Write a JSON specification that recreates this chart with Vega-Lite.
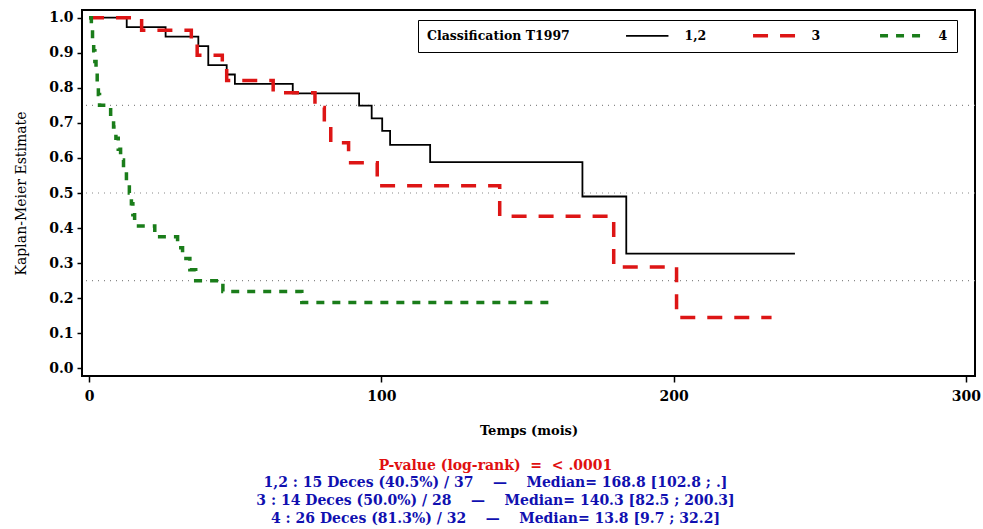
{
  "$schema": "https://vega.github.io/schema/vega-lite/v6.json",
  "width": 893,
  "height": 366,
  "autosize": "none",
  "padding": {"left": 82, "top": 10, "right": 8, "bottom": 153},
  "background": "white",
  "config": {
    "view": {"stroke": "black", "strokeWidth": 2},
    "font": "DejaVu Serif",
    "axisY": {
      "domain": false,
      "grid": false,
      "labelOverlap": false,
      "tickColor": "black",
      "tickSize": 5,
      "tickWidth": 1.5,
      "labelFont": "DejaVu Serif",
      "labelFontSize": 14,
      "labelFontWeight": "bold",
      "labelColor": "black",
      "labelPadding": 4,
      "titleFont": "DejaVu Serif",
      "titleFontSize": 14,
      "titleFontWeight": "normal",
      "titleColor": "black",
      "titlePadding": 20
    },
    "axisX": {
      "domain": false,
      "grid": false,
      "labelOverlap": false,
      "tickColor": "black",
      "tickSize": 6,
      "tickWidth": 1.5,
      "labelFont": "DejaVu Serif",
      "labelFontSize": 14,
      "labelFontWeight": "bold",
      "labelColor": "black",
      "labelPadding": 7,
      "titleFont": "DejaVu Serif",
      "titleFontSize": 13,
      "titleFontWeight": "bold",
      "titleColor": "black",
      "titlePadding": 21
    }
  },
  "title": {
    "text": "P-value (log-rank) \u00a0=\u00a0 <\u00a0.0001",
    "subtitle": [
      "1,2 : 15 Deces (40.5%) / 37 \u00a0\u00a0\u00a0—\u00a0\u00a0\u00a0 Median= 168.8 [102.8 ; .]",
      "3 : 14 Deces (50.0%) / 28 \u00a0\u00a0\u00a0—\u00a0\u00a0\u00a0 Median= 140.3 [82.5 ; 200.3]",
      "4 : 26 Deces (81.3%) / 32 \u00a0\u00a0\u00a0—\u00a0\u00a0\u00a0 Median= 13.8 [9.7 ; 32.2]"
    ],
    "orient": "bottom",
    "anchor": "middle",
    "frame": "group",
    "dx": -33,
    "offset": 22,
    "font": "DejaVu Serif",
    "fontSize": 14,
    "fontWeight": "bold",
    "color": "#e01010",
    "subtitleFont": "DejaVu Serif",
    "subtitleFontSize": 14,
    "subtitleFontWeight": "bold",
    "subtitleColor": "#1010b0",
    "subtitleLineHeight": 18,
    "subtitlePadding": 3
  },
  "layer": [
    {
      "data": {"values": [{"s": 0.25}, {"s": 0.5}, {"s": 0.75}]},
      "mark": {"type": "rule", "color": "#888888", "strokeDash": [1, 5], "strokeWidth": 1.2},
      "encoding": {
        "y": {
          "field": "s",
          "type": "quantitative",
          "title": "Kaplan-Meier Estimate",
          "scale": {"domain": [-0.022, 1.022], "nice": false, "zero": false},
          "axis": {"values": [0, 0.1, 0.2, 0.3, 0.4, 0.5, 0.6, 0.7, 0.8, 0.9, 1], "format": ".1f"}
        }
      }
    },
    {
      "data": {
        "values": [
          {"g": "1,2", "t": 0, "s": 1},
          {"g": "1,2", "t": 12.9, "s": 0.973},
          {"g": "1,2", "t": 26.2, "s": 0.946},
          {"g": "1,2", "t": 37.4, "s": 0.919},
          {"g": "1,2", "t": 40.8, "s": 0.865},
          {"g": "1,2", "t": 47.1, "s": 0.838},
          {"g": "1,2", "t": 49.9, "s": 0.811},
          {"g": "1,2", "t": 69.7, "s": 0.784},
          {"g": "1,2", "t": 92.4, "s": 0.749},
          {"g": "1,2", "t": 96.7, "s": 0.713},
          {"g": "1,2", "t": 100.3, "s": 0.677},
          {"g": "1,2", "t": 103, "s": 0.637},
          {"g": "1,2", "t": 116.7, "s": 0.588},
          {"g": "1,2", "t": 168.8, "s": 0.49},
          {"g": "1,2", "t": 183.8, "s": 0.327},
          {"g": "1,2", "t": 241.5, "s": 0.327},
          {"g": "3", "t": 0, "s": 1},
          {"g": "3", "t": 18, "s": 0.964},
          {"g": "3", "t": 35, "s": 0.929},
          {"g": "3", "t": 37, "s": 0.893},
          {"g": "3", "t": 45.6, "s": 0.857},
          {"g": "3", "t": 47.1, "s": 0.821},
          {"g": "3", "t": 63, "s": 0.786},
          {"g": "3", "t": 77.3, "s": 0.744},
          {"g": "3", "t": 80.5, "s": 0.704},
          {"g": "3", "t": 82.7, "s": 0.643},
          {"g": "3", "t": 88.8, "s": 0.586},
          {"g": "3", "t": 98.6, "s": 0.521},
          {"g": "3", "t": 140.5, "s": 0.434},
          {"g": "3", "t": 179.5, "s": 0.289},
          {"g": "3", "t": 201, "s": 0.145},
          {"g": "3", "t": 233.5, "s": 0.145},
          {"g": "4", "t": 0, "s": 1},
          {"g": "4", "t": 0.8, "s": 0.969},
          {"g": "4", "t": 1.2, "s": 0.938},
          {"g": "4", "t": 1.6, "s": 0.906},
          {"g": "4", "t": 2, "s": 0.875},
          {"g": "4", "t": 2.4, "s": 0.844},
          {"g": "4", "t": 2.8, "s": 0.813},
          {"g": "4", "t": 3.2, "s": 0.781},
          {"g": "4", "t": 3.6, "s": 0.75},
          {"g": "4", "t": 7.4, "s": 0.719},
          {"g": "4", "t": 8.4, "s": 0.688},
          {"g": "4", "t": 9.2, "s": 0.656},
          {"g": "4", "t": 10, "s": 0.625},
          {"g": "4", "t": 10.8, "s": 0.594},
          {"g": "4", "t": 11.8, "s": 0.563},
          {"g": "4", "t": 12.8, "s": 0.531},
          {"g": "4", "t": 13.8, "s": 0.5},
          {"g": "4", "t": 14.5, "s": 0.469},
          {"g": "4", "t": 15, "s": 0.438},
          {"g": "4", "t": 15.6, "s": 0.406},
          {"g": "4", "t": 22.5, "s": 0.375},
          {"g": "4", "t": 30.3, "s": 0.344},
          {"g": "4", "t": 32, "s": 0.313},
          {"g": "4", "t": 34.5, "s": 0.281},
          {"g": "4", "t": 36.5, "s": 0.25},
          {"g": "4", "t": 45.8, "s": 0.219},
          {"g": "4", "t": 72.8, "s": 0.188},
          {"g": "4", "t": 158, "s": 0.188}
        ]
      },
      "mark": {"type": "line", "interpolate": "step-after", "strokeCap": "butt"},
      "encoding": {
        "x": {
          "field": "t",
          "type": "quantitative",
          "title": "Temps (mois)",
          "scale": {"domain": [-2.4, 303.1], "nice": false, "zero": false},
          "axis": {"values": [0, 100, 200, 300]}
        },
        "y": {
          "field": "s",
          "type": "quantitative",
          "title": "Kaplan-Meier Estimate",
          "scale": {"domain": [-0.022, 1.022], "nice": false, "zero": false},
          "axis": {"values": [0, 0.1, 0.2, 0.3, 0.4, 0.5, 0.6, 0.7, 0.8, 0.9, 1], "format": ".1f"}
        },
        "color": {
          "field": "g",
          "type": "nominal",
          "title": "Classification T1997",
          "scale": {"domain": ["1,2", "3", "4"], "range": ["#000000", "#dd1515", "#1a7d1a"]},
          "legend": {
            "orient": "none",
            "legendX": 336,
            "legendY": 10,
            "direction": "horizontal",
            "titleOrient": "left",
            "titleFont": "DejaVu Serif",
            "titleFontSize": 12.5,
            "titleFontWeight": "bold",
            "titleColor": "black",
            "titlePadding": 71,
            "labelFont": "DejaVu Serif",
            "labelFontSize": 12.5,
            "labelFontWeight": "bold",
            "labelColor": "black",
            "labelOffset": 31,
            "symbolType": "stroke",
            "symbolSize": 1800,
            "symbolStrokeWidth": 3,
            "columnPadding": 39,
            "gridAlign": "all",
            "padding": 9,
            "strokeColor": "black",
            "fillColor": "white",
            "encode": {
              "symbols": {"update": {"strokeWidth": {"signal": "datum.value === '1,2' ? 1.8 : 3.5"}}}
            }
          }
        },
        "strokeDash": {
          "field": "g",
          "type": "nominal",
          "title": "Classification T1997",
          "scale": {"domain": ["1,2", "3", "4"], "range": [[1, 0], [15, 12], [8, 8]]}
        },
        "strokeWidth": {
          "condition": {"test": "datum.g === '1,2'", "value": 1.8},
          "value": 3.5
        }
      }
    }
  ]
}
